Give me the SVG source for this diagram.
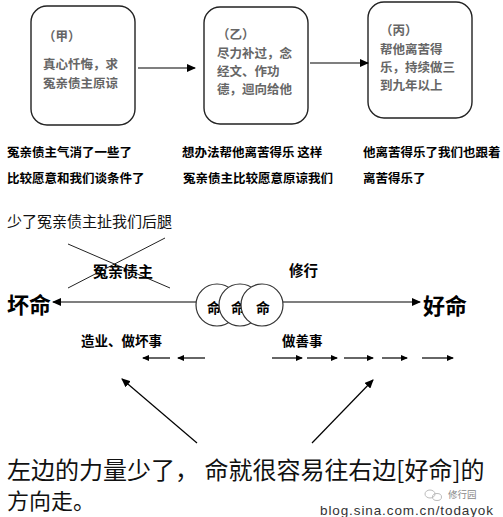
<svg xmlns="http://www.w3.org/2000/svg" width="503" height="517" viewBox="0 0 503 517">
<defs>
<marker id="ah" markerUnits="userSpaceOnUse" markerWidth="9" markerHeight="8" refX="8" refY="4" orient="auto">
<path d="M0,0 L9,4 L0,8 z" fill="#000"/>
</marker>
<marker id="ahs" markerUnits="userSpaceOnUse" markerWidth="7" markerHeight="6" refX="6" refY="3" orient="auto">
<path d="M0,0 L7,3 L0,6 z" fill="#000"/>
</marker>
</defs>
<style>
.box{fill:#fff;stroke:#222;stroke-width:1.4}
.bt{font-family:"Noto Sans CJK SC","Liberation Sans",sans-serif;font-size:12.5px;font-weight:bold;fill:#666;dominant-baseline:central}
.cap{font-family:"Noto Sans CJK SC","Liberation Sans",sans-serif;font-size:12.5px;font-weight:bold;fill:#000;dominant-baseline:central}
.lbl{font-family:"Noto Sans CJK SC","Liberation Sans",sans-serif;font-weight:bold;fill:#000;dominant-baseline:central}
.big{font-family:"Noto Sans CJK SC","Liberation Sans",sans-serif;font-size:22px;font-weight:bold;fill:#000;dominant-baseline:central}
.thin{font-family:"Noto Sans CJK SC","Liberation Sans",sans-serif;fill:#111;dominant-baseline:central}
.ln{stroke:#000;stroke-width:1.2;fill:none}
.circ{fill:#fff;stroke:#333;stroke-width:1.2}
</style>
<rect width="503" height="517" fill="#fff"/>

<g id="box-jia">
<rect class="box" x="31" y="6" width="104" height="119" rx="16"/>
<text class="bt" x="43" y="35">（甲）</text>
<text class="bt" x="43" y="63">真心忏悔，求</text>
<text class="bt" x="43" y="82">冤亲债主原谅</text>
</g>
<g id="box-yi">
<rect class="box" x="204" y="7" width="104" height="117" rx="16"/>
<text class="bt" x="217" y="33">（乙）</text>
<text class="bt" x="217" y="52">尽力补过，念</text>
<text class="bt" x="217" y="70">经文、作功</text>
<text class="bt" x="217" y="88">德，迴向给他</text>
</g>
<g id="box-bing">
<rect class="box" x="368" y="2" width="104" height="116" rx="16"/>
<text class="bt" x="380" y="29">（丙）</text>
<text class="bt" x="380" y="48">帮他离苦得</text>
<text class="bt" x="380" y="66">乐，持续做三</text>
<text class="bt" x="380" y="84">到九年以上</text>
</g>

<g id="captions">
<text class="cap" x="7" y="151">冤亲债主气消了一些了</text>
<text class="cap" x="7" y="177">比较愿意和我们谈条件了</text>
<text class="cap" x="182" y="151">想办法帮他离苦得乐 这样</text>
<text class="cap" x="183" y="177">冤亲债主比较愿意原谅我们</text>
<text class="cap" x="363" y="151">他离苦得乐了我们也跟着</text>
<text class="cap" x="363" y="177">离苦得乐了</text>
<text class="thin" x="7" y="220" font-size="15">少了冤亲债主扯我们后腿</text>
</g>

<g id="connectors">
<line class="ln" x1="138" y1="68" x2="195" y2="68" marker-end="url(#ah)"/>
<line class="ln" x1="310" y1="63" x2="368" y2="63" marker-end="url(#ah)"/>
<line class="ln" x1="196" y1="302" x2="53" y2="302" marker-end="url(#ah)"/>
<line class="ln" x1="283" y1="302" x2="420" y2="302" marker-end="url(#ah)"/>
<line class="ln" x1="170" y1="358" x2="143" y2="358" marker-end="url(#ahs)"/>
<line class="ln" x1="205" y1="358" x2="178" y2="358" marker-end="url(#ahs)"/>
<line class="ln" x1="272" y1="358" x2="302" y2="358" marker-end="url(#ahs)"/>
<line class="ln" x1="307" y1="358" x2="337" y2="358" marker-end="url(#ahs)"/>
<line class="ln" x1="344" y1="358" x2="373" y2="358" marker-end="url(#ahs)"/>
<line class="ln" x1="382" y1="358" x2="407" y2="358" marker-end="url(#ahs)"/>
<line class="ln" x1="422" y1="358" x2="453" y2="358" marker-end="url(#ahs)"/>
<line class="ln" x1="197" y1="443" x2="122" y2="379" marker-end="url(#ah)"/>
<line class="ln" x1="312" y1="443" x2="373" y2="380" marker-end="url(#ah)"/>
</g>

<g id="enemy">
<line x1="68" y1="244" x2="170" y2="288" stroke="#222" stroke-width="1"/>
<line x1="165" y1="238" x2="68" y2="288" stroke="#222" stroke-width="1"/>
<text class="lbl" x="123" y="270" font-size="15" text-anchor="middle">冤亲债主</text>
</g>

<g id="bad-fate"><text class="big" x="7" y="303">坏命</text></g>
<g id="good-fate"><text class="big" x="423" y="304">好命</text></g>

<g id="fate-circles">
<circle class="circ" cx="217" cy="305" r="21"/>
<text class="lbl" x="214" y="307" font-size="14" text-anchor="middle">命</text>
<circle class="circ" cx="240" cy="305" r="21"/>
<text class="lbl" x="238" y="307" font-size="14" text-anchor="middle">命</text>
<circle class="circ" cx="262" cy="305" r="21"/>
<text class="lbl" x="263" y="307" font-size="14" text-anchor="middle">命</text>
</g>

<g id="labels">
<text class="lbl" x="289" y="269" font-size="14.5">修行</text>
<text class="lbl" x="81" y="340" font-size="13.5">造业、做坏事</text>
<text class="lbl" x="282" y="340" font-size="13.5">做善事</text>
</g>

<g id="conclusion">
<text class="thin" x="7" y="468" font-size="24">左边的力量少了， 命就很容易往右边[好命]的</text>
<text class="thin" x="7" y="499" font-size="22">方向走。</text>
</g>

<g id="watermark">
<ellipse cx="430" cy="494" rx="5" ry="4" fill="none" stroke="#bbb" stroke-width="1"/>
<ellipse cx="437" cy="497" rx="4.5" ry="3.5" fill="none" stroke="#bbb" stroke-width="1"/>
<text x="448" y="494" font-family="Noto Sans CJK SC, sans-serif" font-size="9.5" fill="#888" dominant-baseline="central">修行园</text>
<text x="320" y="510" font-family="Liberation Sans, sans-serif" font-size="13.5" fill="#333" dominant-baseline="central" textLength="173">blog.sina.com.cn/todayok</text>
</g>
</svg>
